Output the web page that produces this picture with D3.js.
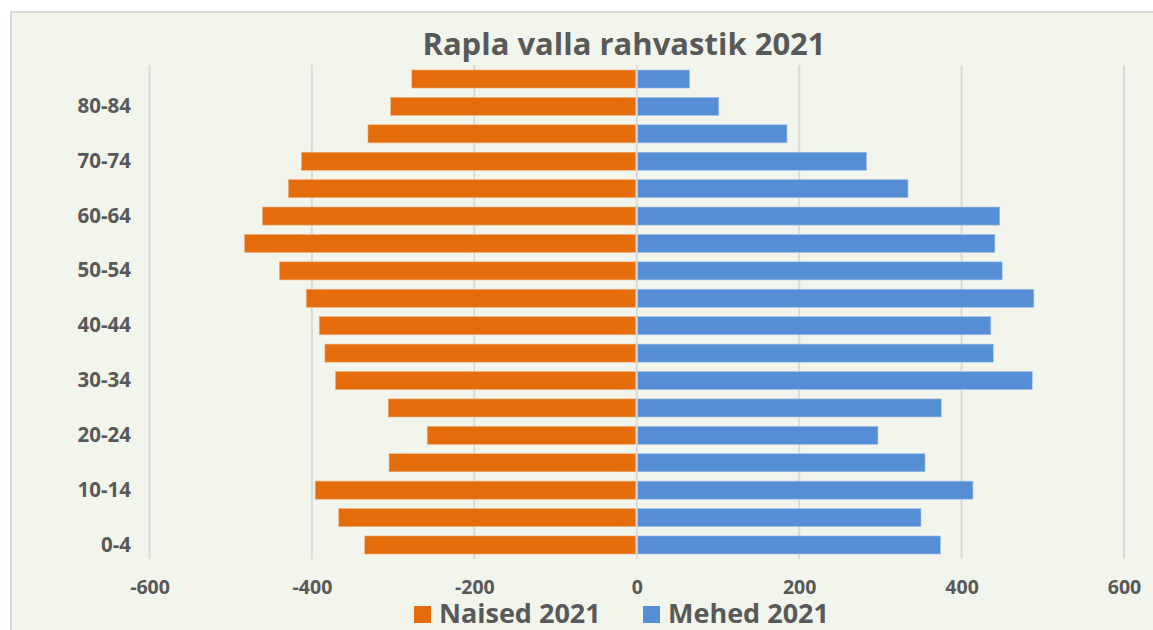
<!DOCTYPE html>
<html>
<head>
<meta charset="utf-8">
<script src="https://cdn.jsdelivr.net/npm/d3@7"></script>
<style>
  body { margin: 0; background: #fff; }
  svg { display: block; font-family: "Open Sans", "Liberation Sans", sans-serif; }
</style>
</head>
<body>
<svg id="chart" width="1153" height="630"></svg>
<script>
// ---- Data ----
const ageGroups = ["0-4", "5-9", "10-14", "15-19", "20-24", "25-29", "30-34", "35-39", "40-44",
  "45-49", "50-54", "55-59", "60-64", "65-69", "70-74", "75-79", "80-84", "85+"];
const women2021 = [335, 367, 396, 305, 258, 306, 371, 384, 391, 407, 440, 483, 461, 429, 413, 331, 303, 277];
const men2021 = [374, 350, 414, 355, 297, 375, 487, 439, 436, 489, 450, 441, 447, 334, 283, 185, 101, 65];
const xTicks = [-600, -400, -200, 0, 200, 400, 600];
const shownAges = ["0-4", "10-14", "20-24", "30-34", "40-44", "50-54", "60-64", "70-74", "80-84"];

// ---- Config ----
const orange = "#e46c0a";
const blue = "#558ed5";
const textColor = "#595959";
const gridColor = "#d9d9d9";
const fontFamily = '"Open Sans", "Liberation Sans", sans-serif';

const svg = d3.select("#chart");

// chart area background
svg.append("rect")
  .attr("x", 11).attr("y", 12)
  .attr("width", 1150).attr("height", 630)
  .attr("fill", "#f2f5eb")
  .attr("stroke", "#d9d9d9").attr("stroke-width", 2);

// ---- Scales ----
const x = d3.scaleLinear().domain([-600, 600]).range([149.5, 1124]);
const y = d3.scaleBand()
  .domain(ageGroups.slice().reverse())
  .range([65.3, 558.7])
  .paddingInner(0.34)
  .paddingOuter(0.17);

// ---- Grid ----
svg.append("g")
  .selectAll("line")
  .data(xTicks)
  .join("line")
  .attr("x1", d => x(d)).attr("x2", d => x(d))
  .attr("y1", 65).attr("y2", 559)
  .attr("stroke", gridColor).attr("stroke-width", 2);

// ---- Bars ----
const rows = ageGroups.map((a, i) => ({ age: a, women: women2021[i], men: men2021[i] }));

svg.append("g")
  .selectAll("rect")
  .data(rows)
  .join("rect")
  .attr("x", d => x(-d.women))
  .attr("y", d => y(d.age))
  .attr("width", d => x(0) - 1 - x(-d.women))
  .attr("height", y.bandwidth())
  .attr("fill", orange)
  .attr("stroke", "#f0b486").attr("stroke-width", 0.6);

svg.append("g")
  .selectAll("rect")
  .data(rows)
  .join("rect")
  .attr("x", x(0) + 1)
  .attr("y", d => y(d.age))
  .attr("width", d => x(d.men) - x(0) - 1)
  .attr("height", y.bandwidth())
  .attr("fill", blue)
  .attr("stroke", "#a9c4ea").attr("stroke-width", 0.6);

// ---- Axes ----
const xAxis = svg.append("g")
  .attr("transform", "translate(0,594)")
  .call(d3.axisBottom(x).tickValues(xTicks).tickFormat(d => String(d)).tickSize(0).tickPadding(0));
xAxis.select(".domain").remove();
xAxis.attr("font-family", fontFamily).attr("font-size", 19.5).attr("font-weight", "bold");
xAxis.selectAll("text").attr("fill", textColor).attr("dy", 0);

const yAxis = svg.append("g")
  .attr("transform", "translate(131,0)")
  .call(d3.axisLeft(y).tickValues(shownAges).tickSize(0).tickPadding(0));
yAxis.select(".domain").remove();
yAxis.attr("font-family", fontFamily).attr("font-size", 20.5).attr("font-weight", "bold");
yAxis.selectAll("text").attr("fill", textColor);

// ---- Title ----
svg.append("text")
  .attr("x", 624).attr("y", 55)
  .attr("text-anchor", "middle")
  .attr("font-size", 31).attr("font-weight", "bold")
  .attr("fill", textColor)
  .text("Rapla valla rahvastik 2021");

// ---- Legend ----
const legendItems = [
  { label: "Naised 2021", color: orange, x: 414 },
  { label: "Mehed 2021", color: blue, x: 643 }
];
const legend = svg.append("g").selectAll("g")
  .data(legendItems)
  .join("g")
  .attr("transform", d => `translate(${d.x},606)`);
legend.append("rect")
  .attr("width", 17).attr("height", 17)
  .attr("fill", d => d.color);
legend.append("text")
  .attr("x", 25).attr("y", 16.5)
  .attr("font-size", 27).attr("font-weight", "bold")
  .attr("fill", textColor)
  .text(d => d.label);
</script>
</body>
</html>
